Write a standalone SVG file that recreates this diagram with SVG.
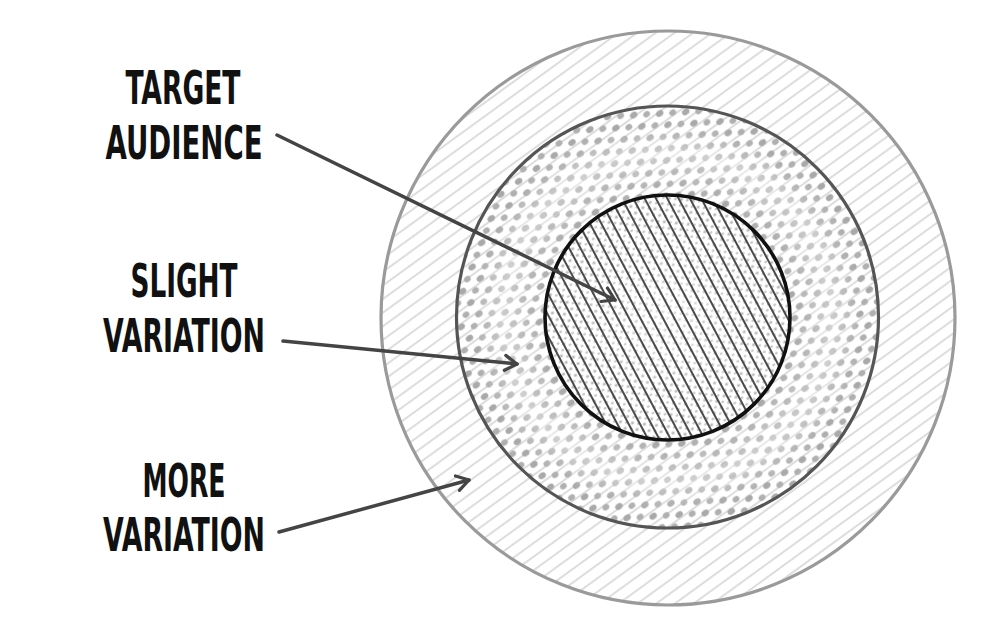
<svg xmlns="http://www.w3.org/2000/svg" width="1000" height="634" viewBox="0 0 1000 634">
  <style>
    .label { font-family: "DejaVu Sans Condensed", "DejaVu Sans", sans-serif; font-weight: bold; font-size: 46px; fill: #111; text-anchor: middle; }
    .conn { stroke: #444; stroke-width: 3.5; stroke-linecap: round; fill: none; marker-end: url(#chev); }
  </style>
  <defs>
    <pattern id="hatch" patternUnits="userSpaceOnUse" width="40" height="11" patternTransform="rotate(-36)">
      <line x1="0" y1="5" x2="40" y2="5" stroke="#d2d2d2" stroke-width="1.6"/>
    </pattern>
    <pattern id="dots" patternUnits="userSpaceOnUse" width="22" height="14" patternTransform="rotate(-36)">
      <ellipse cx="5" cy="3.5" rx="4" ry="3.1" fill="#a9a9a9"/>
      <ellipse cx="16" cy="10.5" rx="3.6" ry="2.9" fill="#b0b0b0"/>
    </pattern>
    <pattern id="fine" patternUnits="userSpaceOnUse" width="9" height="8" patternTransform="rotate(-36)">
      <ellipse cx="2" cy="2" rx="1.7" ry="1.4" fill="#b8b8b8"/>
      <ellipse cx="6.5" cy="6" rx="1.5" ry="1.2" fill="#c2c2c2"/>
    </pattern>
    <pattern id="strokes" patternUnits="userSpaceOnUse" width="60" height="10" patternTransform="rotate(62)">
      <line x1="0" y1="4" x2="60" y2="4" stroke="#4a4a4a" stroke-width="2.1"/>
    </pattern>
    <radialGradient id="lite" cx="0.5" cy="0.5" r="0.5">
      <stop offset="0" stop-color="#fff" stop-opacity="0.55"/>
      <stop offset="0.6" stop-color="#fff" stop-opacity="0.15"/>
      <stop offset="1" stop-color="#fff" stop-opacity="0"/>
    </radialGradient>
    <radialGradient id="ringlite" cx="0.5" cy="0.5" r="0.5">
      <stop offset="0.6" stop-color="#fff" stop-opacity="0"/>
      <stop offset="0.78" stop-color="#fff" stop-opacity="0.4"/>
      <stop offset="0.92" stop-color="#fff" stop-opacity="0"/>
    </radialGradient>
    <marker id="chev" viewBox="0 0 20 20" refX="17" refY="10" markerWidth="20" markerHeight="20" markerUnits="userSpaceOnUse" orient="auto">
      <path d="M5,2.5 L17,10 L5,17.5" fill="none" stroke="#444" stroke-width="3.2" stroke-linecap="round" stroke-linejoin="round"/>
    </marker>
  </defs>

  <rect width="1000" height="634" fill="#fff"/>

  <g id="outer-ring">
    <circle cx="668" cy="318" r="287" fill="#fff"/>
    <circle cx="668" cy="318" r="287" fill="url(#hatch)" stroke="#9a9a9a" stroke-width="3.2"/>
  </g>

  <g id="middle-ring">
    <circle cx="667.5" cy="317" r="211" fill="#fff"/>
    <circle cx="667.5" cy="317" r="211" fill="url(#hatch)"/>
    <circle cx="667.5" cy="317" r="211" fill="url(#dots)"/>
    <circle cx="667.5" cy="317" r="211" fill="url(#ringlite)"/>
    <circle cx="667.5" cy="317" r="211" fill="none" stroke="#555" stroke-width="3.2"/>
  </g>

  <g id="inner-circle">
    <circle cx="667.5" cy="317.5" r="122.5" fill="#fff"/>
    <circle cx="667.5" cy="317.5" r="122.5" fill="url(#fine)"/>
    <circle cx="667.5" cy="317.5" r="122.5" fill="url(#lite)"/>
    <circle cx="667.5" cy="317.5" r="122.5" fill="url(#strokes)"/>
    <circle cx="667.5" cy="317.5" r="122.5" fill="none" stroke="#111" stroke-width="3.6"/>
  </g>

  <g id="connectors">
    <line class="conn" x1="277" y1="135" x2="615" y2="300"/>
    <line class="conn" x1="283" y1="341" x2="517" y2="364"/>
    <line class="conn" x1="279" y1="532" x2="469" y2="480"/>
  </g>

  <g id="label-target">
    <text class="label" x="183" y="104" textLength="115" lengthAdjust="spacingAndGlyphs">TARGET</text>
    <text class="label" x="184" y="159" textLength="157" lengthAdjust="spacingAndGlyphs">AUDIENCE</text>
  </g>
  <g id="label-slight">
    <text class="label" x="184" y="297" textLength="107" lengthAdjust="spacingAndGlyphs">SLIGHT</text>
    <text class="label" x="184" y="352" textLength="162" lengthAdjust="spacingAndGlyphs">VARIATION</text>
  </g>
  <g id="label-more">
    <text class="label" x="184" y="497" textLength="83" lengthAdjust="spacingAndGlyphs">MORE</text>
    <text class="label" x="184" y="551" textLength="162" lengthAdjust="spacingAndGlyphs">VARIATION</text>
  </g>
</svg>
